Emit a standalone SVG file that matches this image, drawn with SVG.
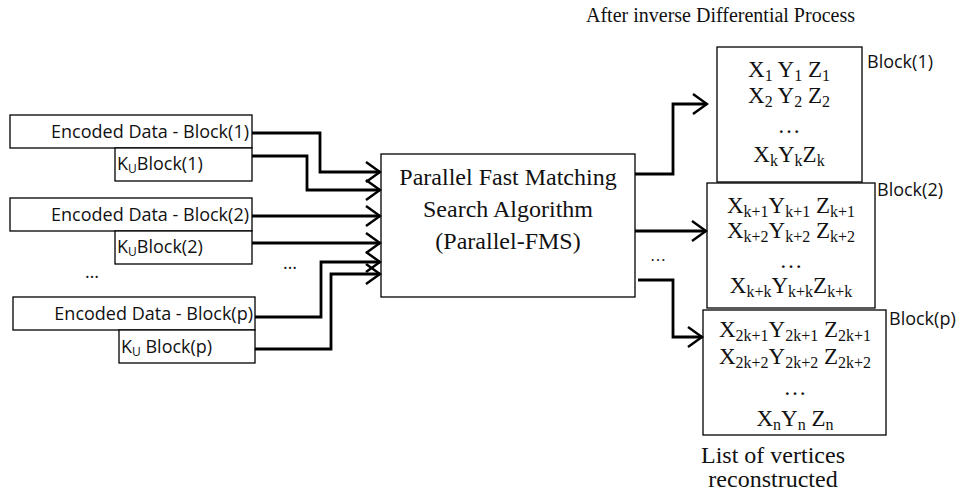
<svg xmlns="http://www.w3.org/2000/svg" width="958" height="495" viewBox="0 0 958 495">
  <defs>
    <marker id="chev" markerWidth="18" markerHeight="24" refX="16" refY="12" orient="auto" markerUnits="userSpaceOnUse">
      <path d="M2,2 L16,12 L2,22" fill="none" stroke="#000" stroke-width="2.5"/>
    </marker>
    <style>
      .box { fill: #fff; stroke: #000; stroke-width: 1.3; }
      .wire { fill: none; stroke: #000; stroke-width: 2.8; marker-end: url(#chev); }
      .sans { font-family: "Open Sans", "Liberation Sans", sans-serif; font-size: 18px; fill: #111; }
      .serif { font-family: "Liberation Serif", "Times New Roman", serif; fill: #111; }
      .big { font-size: 24px; }
      .mid { font-size: 23px; }
      .sub { font-size: 16px; }
      .ksub { font-size: 12px; }
    </style>
  </defs>

  <!-- caption above the output blocks -->
  <text class="serif" x="586" y="22" font-size="20">After inverse Differential Process</text>

  <!-- input blocks -->
  <g id="enc1">
    <rect class="box" x="10" y="115" width="242" height="33"/>
    <text class="sans" x="249" y="138" text-anchor="end">Encoded Data - Block(1)</text>
  </g>
  <g id="ku1">
    <rect class="box" x="115" y="148" width="137" height="33"/>
    <text class="sans" x="117" y="170">K<tspan class="ksub" dy="3">U</tspan><tspan dy="-3">Block(1)</tspan></text>
  </g>
  <g id="enc2">
    <rect class="box" x="10" y="198" width="242" height="33"/>
    <text class="sans" x="249" y="221" text-anchor="end">Encoded Data - Block(2)</text>
  </g>
  <g id="ku2">
    <rect class="box" x="115" y="231" width="137" height="33"/>
    <text class="sans" x="117" y="253">K<tspan class="ksub" dy="3">U</tspan><tspan dy="-3">Block(2)</tspan></text>
  </g>
  <g id="encp">
    <rect class="box" x="13" y="297" width="242" height="33"/>
    <text class="sans" x="253" y="320" text-anchor="end">Encoded Data - Block(p)</text>
  </g>
  <g id="kup">
    <rect class="box" x="119" y="330" width="136" height="33"/>
    <text class="sans" x="121" y="353">K<tspan class="ksub" dy="3">U</tspan><tspan dy="-3"> Block(p)</tspan></text>
  </g>
  <text class="sans" x="92" y="278" text-anchor="middle" font-size="15">…</text>

  <!-- central search algorithm -->
  <g id="fms">
    <rect class="box" x="381" y="154" width="254" height="143"/>
    <text class="serif big" x="508" y="185" text-anchor="middle">Parallel Fast Matching</text>
    <text class="serif big" x="508" y="217" text-anchor="middle">Search Algorithm</text>
    <text class="serif big" x="508" y="249" text-anchor="middle">(Parallel-FMS)</text>
  </g>

  <!-- output blocks -->
  <g id="out1">
    <rect class="box" x="717" y="47" width="145" height="135"/>
    <text class="serif mid" x="789" y="77" text-anchor="middle">X<tspan class="sub" dy="4">1</tspan><tspan dy="-4"> Y</tspan><tspan class="sub" dy="4">1</tspan><tspan dy="-4"> Z</tspan><tspan class="sub" dy="4">1</tspan></text>
    <text class="serif mid" x="789" y="103" text-anchor="middle">X<tspan class="sub" dy="4">2</tspan><tspan dy="-4"> Y</tspan><tspan class="sub" dy="4">2</tspan><tspan dy="-4"> Z</tspan><tspan class="sub" dy="4">2</tspan></text>
    <text class="serif mid" x="789" y="133" text-anchor="middle">…</text>
    <text class="serif mid" x="789" y="162" text-anchor="middle">X<tspan class="sub" dy="4">k</tspan><tspan dy="-4">Y</tspan><tspan class="sub" dy="4">k</tspan><tspan dy="-4">Z</tspan><tspan class="sub" dy="4">k</tspan></text>
    <text class="sans" x="867" y="68" font-size="19">Block(1)</text>
  </g>
  <g id="out2">
    <rect class="box" x="707" y="183" width="168" height="125"/>
    <text class="serif mid" x="791" y="213" text-anchor="middle">X<tspan class="sub" dy="4">k+1</tspan><tspan dy="-4">Y</tspan><tspan class="sub" dy="4">k+1</tspan><tspan dy="-4"> Z</tspan><tspan class="sub" dy="4">k+1</tspan></text>
    <text class="serif mid" x="791" y="238" text-anchor="middle">X<tspan class="sub" dy="4">k+2</tspan><tspan dy="-4">Y</tspan><tspan class="sub" dy="4">k+2</tspan><tspan dy="-4"> Z</tspan><tspan class="sub" dy="4">k+2</tspan></text>
    <text class="serif mid" x="791" y="268" text-anchor="middle">…</text>
    <text class="serif mid" x="791" y="293" text-anchor="middle">X<tspan class="sub" dy="4">k+k</tspan><tspan dy="-4">Y</tspan><tspan class="sub" dy="4">k+k</tspan><tspan dy="-4">Z</tspan><tspan class="sub" dy="4">k+k</tspan></text>
    <text class="sans" x="877" y="196" font-size="19">Block(2)</text>
  </g>
  <g id="outp">
    <rect class="box" x="703" y="310" width="183" height="125"/>
    <text class="serif mid" x="795" y="337" text-anchor="middle">X<tspan class="sub" dy="4">2k+1</tspan><tspan dy="-4">Y</tspan><tspan class="sub" dy="4">2k+1</tspan><tspan dy="-4"> Z</tspan><tspan class="sub" dy="4">2k+1</tspan></text>
    <text class="serif mid" x="795" y="364" text-anchor="middle">X<tspan class="sub" dy="4">2k+2</tspan><tspan dy="-4">Y</tspan><tspan class="sub" dy="4">2k+2</tspan><tspan dy="-4"> Z</tspan><tspan class="sub" dy="4">2k+2</tspan></text>
    <text class="serif mid" x="795" y="395" text-anchor="middle">…</text>
    <text class="serif mid" x="795" y="426" text-anchor="middle">X<tspan class="sub" dy="4">n</tspan><tspan dy="-4">Y</tspan><tspan class="sub" dy="4">n</tspan><tspan dy="-4"> Z</tspan><tspan class="sub" dy="4">n</tspan></text>
    <text class="sans" x="889" y="325" font-size="19">Block(p)</text>
  </g>

  <text class="serif big" x="773" y="463" text-anchor="middle">List of vertices</text>
  <text class="serif big" x="773" y="487" text-anchor="middle">reconstructed</text>

  <!-- connectors -->
  <g id="connectors">
    <path class="wire" d="M252,133 H320 V172 H380"/>
    <path class="wire" d="M252,156 H307 V190 H380"/>
    <path class="wire" d="M252,216 H380"/>
    <path class="wire" d="M252,243 H380"/>
    <path class="wire" d="M255,317 H321 V262 H380"/>
    <path class="wire" d="M255,349 H331 V274 H380"/>
    <path class="wire" d="M635,174 H673 V104 H707"/>
    <path class="wire" d="M635,231 H706"/>
    <path class="wire" d="M638,280 H673 V337 H702"/>
  </g>
  <text class="sans" x="290" y="269" text-anchor="middle" font-size="15">…</text>
  <text class="serif" x="658" y="261" font-size="16" text-anchor="middle">…</text>
</svg>
